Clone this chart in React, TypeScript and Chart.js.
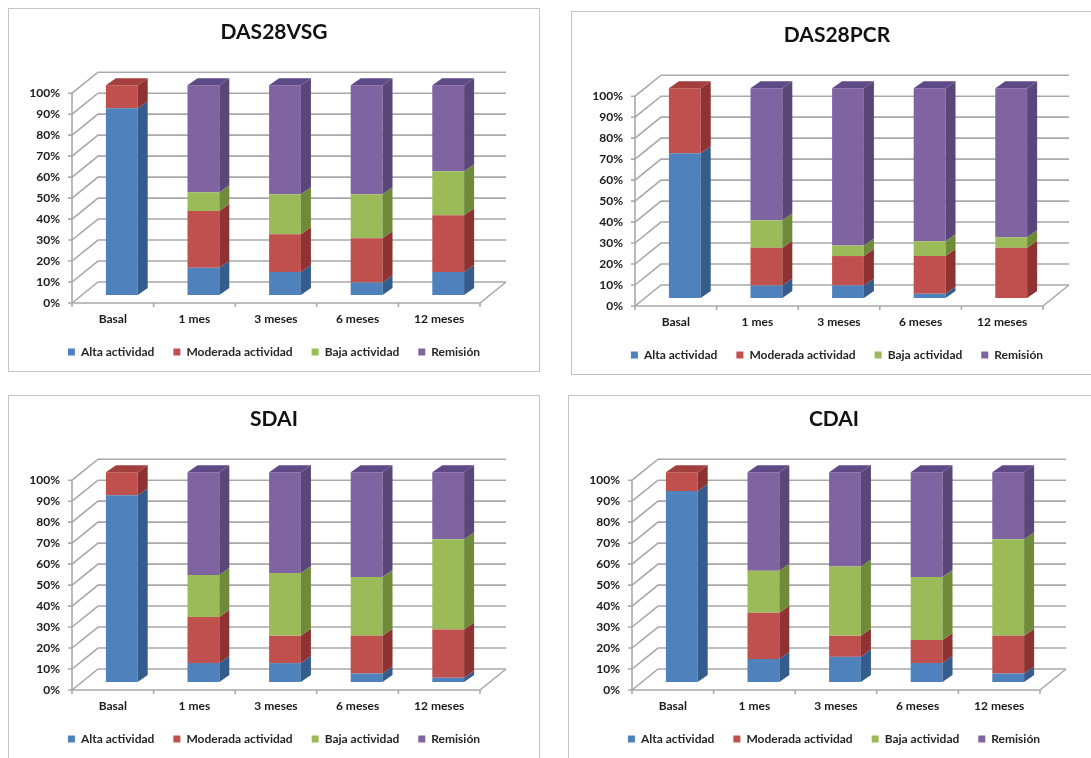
import React, { useEffect, useRef } from 'react';
import { Chart, registerables } from 'chart.js';

Chart.register(...registerables);

// ---------- data ----------
const categories = ['Basal', '1 mes', '3 meses', '6 meses', '12 meses'];
const seriesNames = ['Alta actividad', 'Moderada actividad', 'Baja actividad', 'Remisión'];

const das28vsgAlta = [89, 13, 11, 6, 11];
const das28vsgModerada = [11, 27, 18, 21, 27];
const das28vsgBaja = [0, 9, 19, 21, 21];
const das28vsgRemision = [0, 51, 52, 52, 41];

const das28pcrAlta = [69, 6, 6, 2, 0];
const das28pcrModerada = [31, 18, 14, 18, 24];
const das28pcrBaja = [0, 13, 5, 7, 5];
const das28pcrRemision = [0, 63, 75, 73, 71];

const sdaiAlta = [89, 9, 9, 4, 2];
const sdaiModerada = [11, 22, 13, 18, 23];
const sdaiBaja = [0, 20, 30, 28, 43];
const sdaiRemision = [0, 49, 48, 50, 32];

const cdaiAlta = [91, 11, 12, 9, 4];
const cdaiModerada = [9, 22, 10, 11, 18];
const cdaiBaja = [0, 20, 33, 30, 46];
const cdaiRemision = [0, 47, 45, 50, 32];

// ---------- styles ----------
const FONT = 'Lato, "Open Sans", sans-serif';
const FRONT = ['#4F81BD', '#C0504D', '#9BBB59', '#8064A2'];
const SIDE = ['#345C8C', '#8E3331', '#6F8B3A', '#5B4679'];
const TOP = ['#3F6DA3', '#A33F3D', '#86A447', '#5E4A86'];
const GRID = '#a9a9a9';
const WX = 26, WY = -21; // wall depth
const BX = 9, BY = -8;   // bar position in depth
const SX = 10, SY = -7;  // bar depth

const threeDPlugin = {
  id: 'threeD',
  beforeDatasetsDraw(chart: any) {
    const { ctx } = chart;
    const x = chart.scales.x, y = chart.scales.y;
    const n = chart.data.labels.length;
    const y0 = y.getPixelForValue(0), y100 = y.getPixelForValue(100);
    const step = Math.abs(x.getPixelForValue(1) - x.getPixelForValue(0));
    const xl = x.getPixelForValue(0) - step / 2;
    const xr = x.getPixelForValue(n - 1) + step / 2;
    ctx.save();
    ctx.strokeStyle = GRID;
    ctx.lineWidth = 1.6;
    ctx.lineJoin = 'miter';
    for (const t of y.ticks) {
      const py = y.getPixelForValue(t.value);
      ctx.beginPath();
      ctx.moveTo(xl - 4, py);
      ctx.lineTo(xl, py);
      ctx.lineTo(xl + WX, py + WY);
      ctx.lineTo(xr + WX, py + WY);
      ctx.stroke();
    }
    ctx.beginPath();
    ctx.moveTo(xl, y100);
    ctx.lineTo(xl, y0);
    ctx.lineTo(xr, y0);
    ctx.lineTo(xr + WX, y0 + WY);
    ctx.stroke();
    for (let i = 0; i <= n; i++) {
      const px = xl + i * step;
      ctx.beginPath();
      ctx.moveTo(px, y0);
      ctx.lineTo(px, y0 + 4);
      ctx.stroke();
    }
    ctx.restore();
    ctx.save();
    ctx.translate(BX, BY);
  },
  afterDatasetsDraw(chart: any) {
    const { ctx } = chart;
    const n = chart.data.labels.length;
    for (let j = 0; j < n; j++) {
      let topIdx = -1;
      chart.data.datasets.forEach((ds: any, i: number) => {
        if (ds.data[j] > 0) topIdx = i;
      });
      chart.data.datasets.forEach((ds: any, i: number) => {
        if (!(ds.data[j] > 0)) return;
        const el = chart.getDatasetMeta(i).data[j];
        const { x, y, base, width } = el.getProps(['x', 'y', 'base', 'width'], true);
        const l = x - width / 2, r = x + width / 2;
        ctx.fillStyle = SIDE[i];
        ctx.beginPath();
        ctx.moveTo(r, y);
        ctx.lineTo(r + SX, y + SY);
        ctx.lineTo(r + SX, base + SY);
        ctx.lineTo(r, base);
        ctx.closePath();
        ctx.fill();
        if (i === topIdx) {
          ctx.fillStyle = TOP[i];
          ctx.beginPath();
          ctx.moveTo(l, y);
          ctx.lineTo(l + SX, y + SY);
          ctx.lineTo(r + SX, y + SY);
          ctx.lineTo(r, y);
          ctx.closePath();
          ctx.fill();
        }
      });
    }
    ctx.restore();
  },
};

type PanelProps = {
  title: string;
  series: number[][];
  left: number;
  top: number;
};

const W = 530, H = 362;

function Panel({ title, series, left, top }: PanelProps) {
  const ref = useRef<HTMLCanvasElement | null>(null);
  useEffect(() => {
    if (!ref.current) return;
    const tickFont = { family: FONT, size: 12, weight: 'bold' as const };
    const chart = new Chart(ref.current, {
      type: 'bar',
      data: {
        labels: categories,
        datasets: series.map((d, i) => ({
          label: seriesNames[i],
          data: d,
          backgroundColor: FRONT[i],
          borderWidth: 0,
          clip: false as any,
        })),
      },
      options: {
        responsive: false,
        animation: false,
        events: [],
        layout: { padding: { left: 15, right: 15, top: 0, bottom: 3 } },
        datasets: { bar: { barPercentage: 0.39, categoryPercentage: 1 } },
        plugins: {
          title: {
            display: true,
            text: title,
            color: '#111111',
            font: { family: FONT, size: 21, weight: 'bold' },
            padding: { top: 11, bottom: 48 },
          },
          legend: {
            position: 'bottom',
            labels: {
              boxWidth: 7,
              boxHeight: 7,
              padding: 19,
              color: '#262626',
              font: tickFont,
            },
          },
          tooltip: { enabled: false },
        },
        scales: {
          x: {
            stacked: true,
            grid: { display: false, drawTicks: false },
            border: { display: false },
            ticks: { padding: 9, color: '#1a1a1a', font: tickFont },
            afterFit: (s: any) => { s.height = 24; },
          },
          y: {
            stacked: true,
            min: 0,
            max: 100,
            grid: { display: false, drawTicks: false },
            border: { display: false },
            ticks: {
              stepSize: 10,
              padding: 12,
              color: '#1a1a1a',
              font: { family: FONT, size: 12, weight: 'bold' },
              callback: (v: any) => v + '%',
            },
            afterFit: (s: any) => { s.width = 48; },
          },
          y2: {
            position: 'right',
            display: true,
            grid: { display: false, drawTicks: false },
            border: { display: false },
            ticks: { display: false },
            afterFit: (s: any) => { s.width = 44; },
          },
        },
      },
      plugins: [threeDPlugin],
    } as any);
    return () => chart.destroy();
  }, [title, series]);

  return (
    <div
      style={{
        position: 'fixed',
        left,
        top,
        width: W + 2,
        height: H + 2,
        boxSizing: 'border-box',
        border: '1px solid #c4c4c4',
        background: '#ffffff',
      }}
    >
      <canvas ref={ref} width={W} height={H} style={{ display: 'block', width: W, height: H }} />
    </div>
  );
}

const panels = [
  { title: 'DAS28VSG', series: [das28vsgAlta, das28vsgModerada, das28vsgBaja, das28vsgRemision], left: 8, top: 8 },
  { title: 'DAS28PCR', series: [das28pcrAlta, das28pcrModerada, das28pcrBaja, das28pcrRemision], left: 571, top: 11 },
  { title: 'SDAI', series: [sdaiAlta, sdaiModerada, sdaiBaja, sdaiRemision], left: 8, top: 395 },
  { title: 'CDAI', series: [cdaiAlta, cdaiModerada, cdaiBaja, cdaiRemision], left: 568, top: 395 },
];

export default function App() {
  return (
    <div style={{ width: 1075, height: 742, background: '#ffffff' }}>
      {panels.map((p) => (
        <Panel key={p.title} {...p} />
      ))}
    </div>
  );
}
